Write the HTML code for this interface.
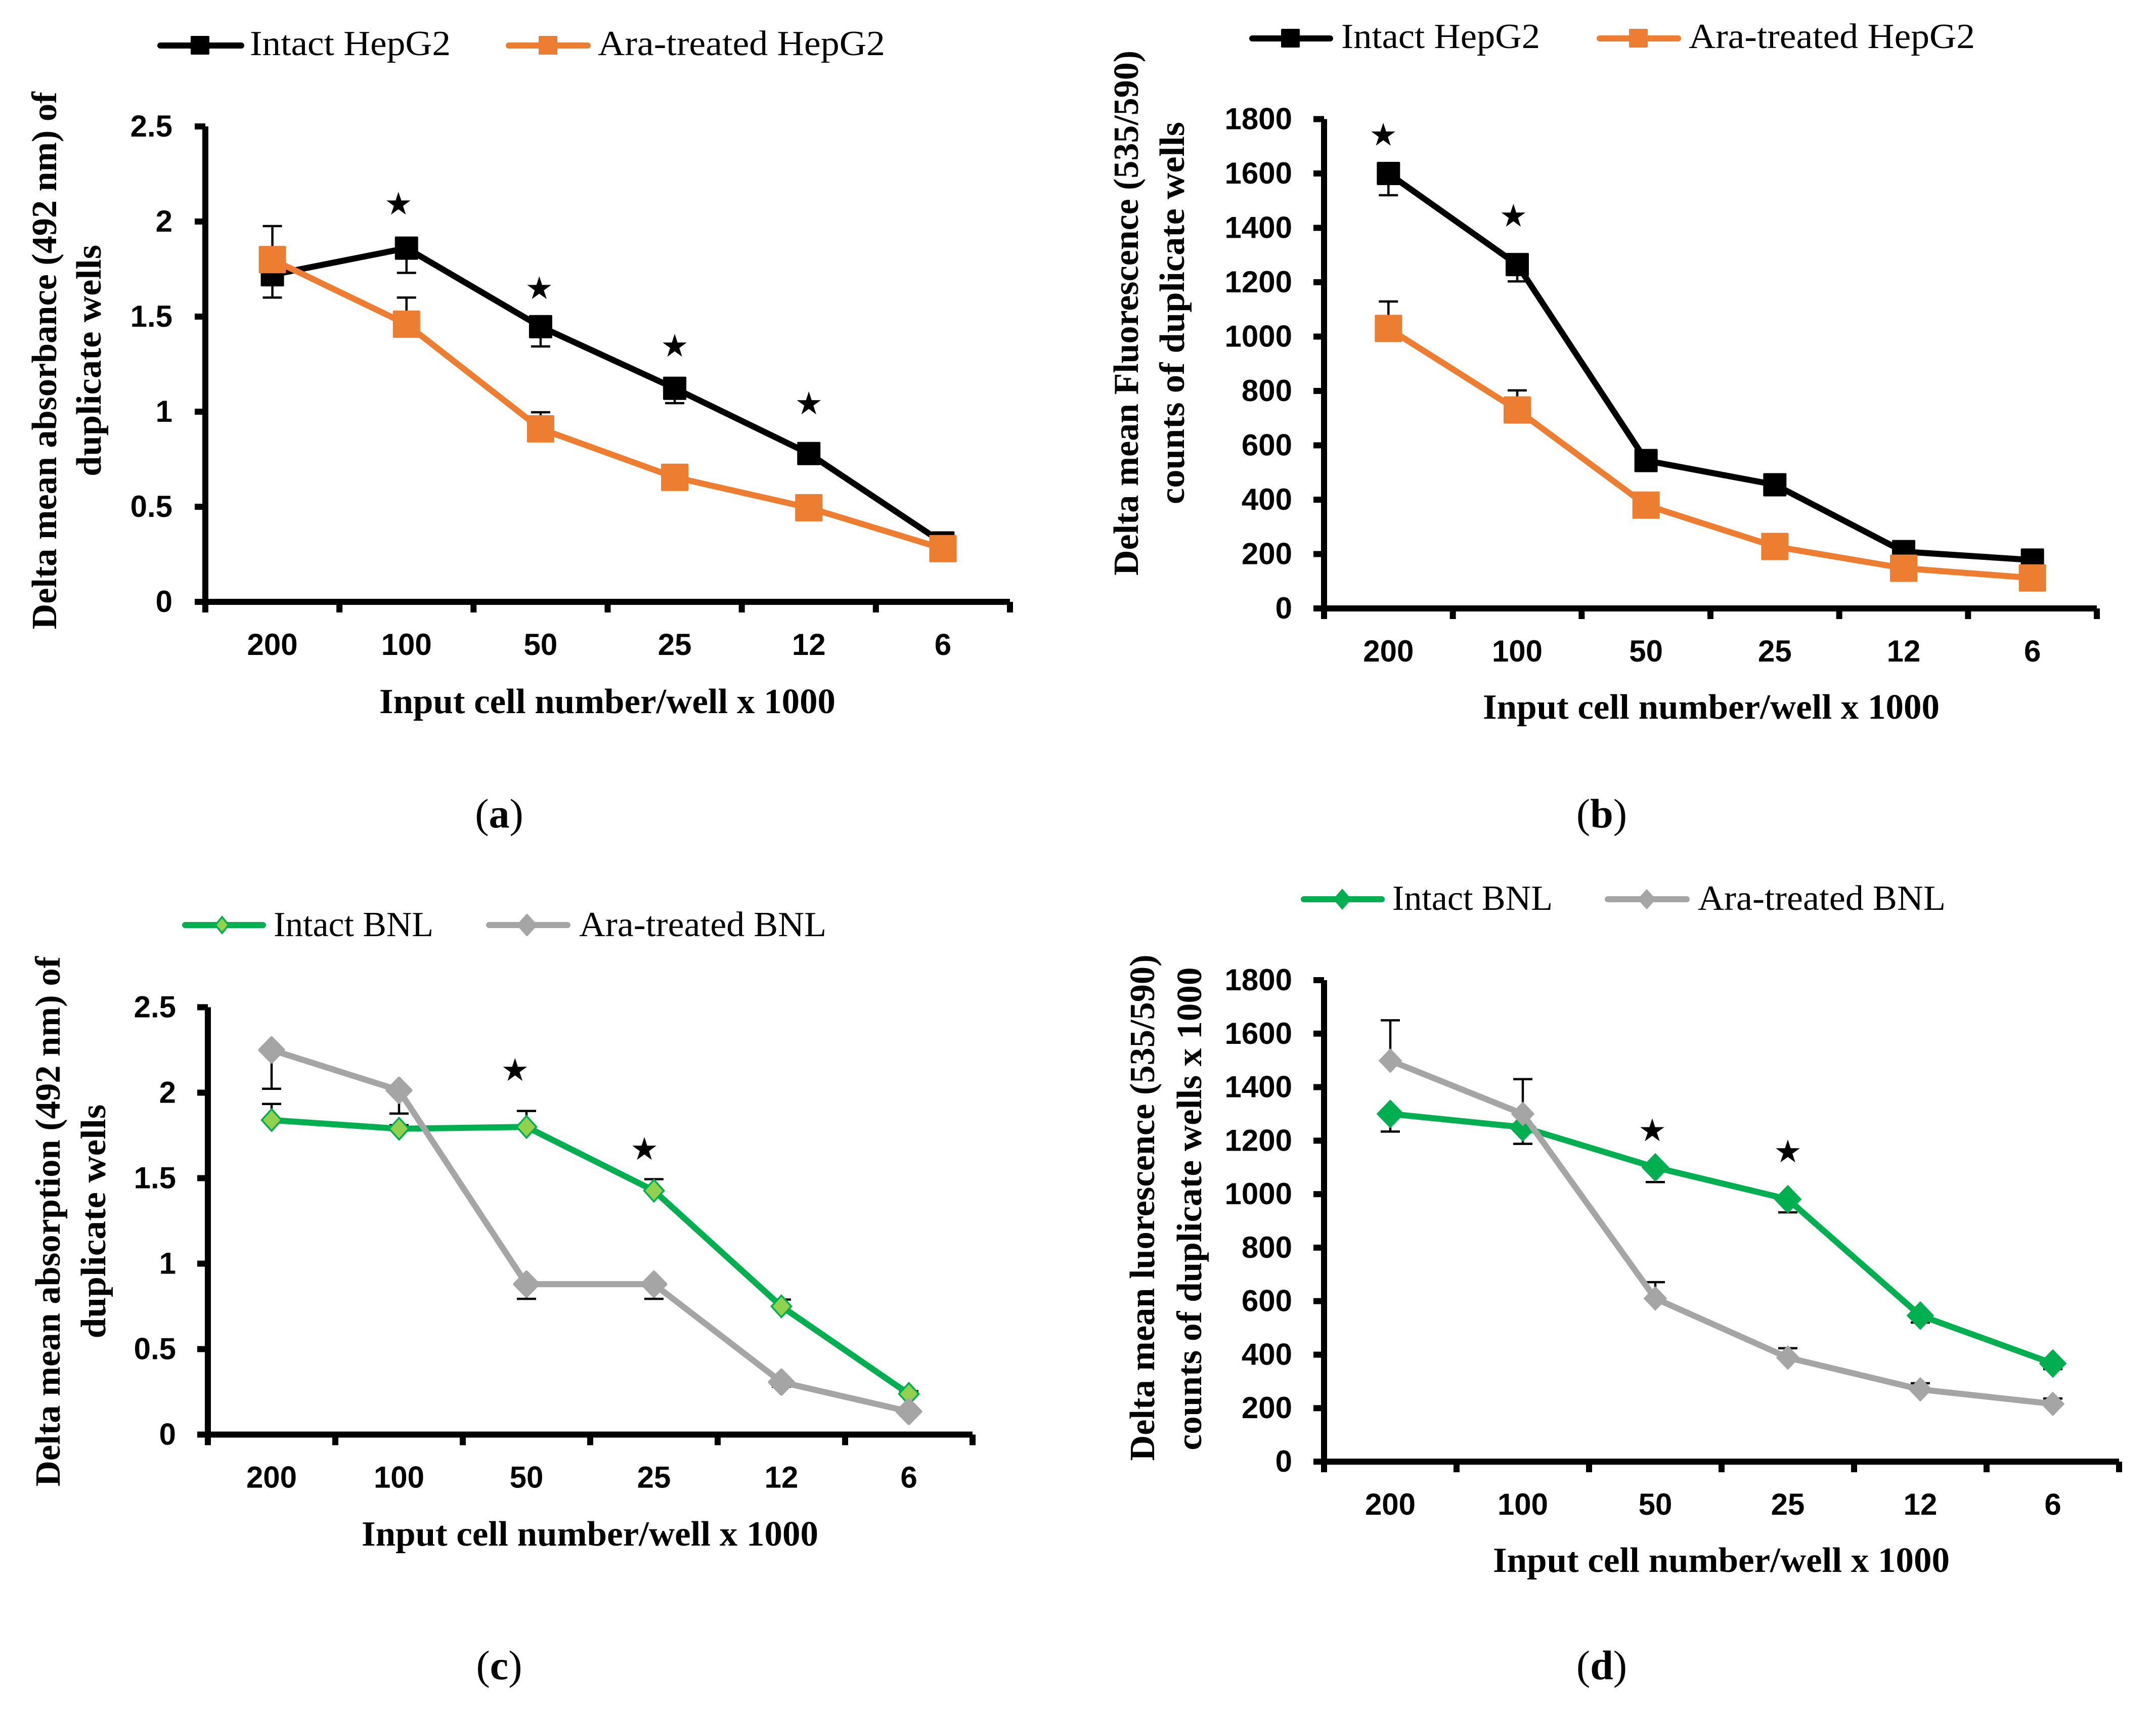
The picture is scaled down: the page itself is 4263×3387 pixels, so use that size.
<!DOCTYPE html>
<html lang="en">
<head>
<meta charset="utf-8">
<title>Delta absorbance and fluorescence versus input cell number</title>
<style>
html,body{margin:0;padding:0;background:#fff;}
svg{display:block;}
.tick{font-family:"Liberation Sans",sans-serif;font-weight:700;font-size:60px;fill:#000;}
.title{font-family:"Liberation Serif",serif;font-weight:700;font-size:70px;fill:#000;}
.leg{font-family:"Liberation Serif",serif;font-weight:400;font-size:70px;fill:#000;}
.cap{font-family:"Liberation Serif",serif;font-weight:400;font-size:82px;fill:#000;}
.cap tspan{font-weight:700;}
</style>
</head>
<body>
<svg id="fig" xmlns="http://www.w3.org/2000/svg" width="4263" height="3387" viewBox="0 0 4263 3387">
<rect x="0" y="0" width="4263" height="3387" fill="#ffffff"/>

<!-- Panel a text and legend -->
<g>
<line x1="317" y1="90" x2="477" y2="90" stroke="#000" stroke-width="12" stroke-linecap="round"/>
<rect x="377" y="71" width="37" height="37" rx="2" fill="#000"/>
<text class="leg" x="494" y="109" textLength="397" lengthAdjust="spacingAndGlyphs">Intact HepG2</text>
<line x1="1006" y1="90" x2="1162" y2="90" stroke="#ED7D31" stroke-width="12" stroke-linecap="round"/>
<rect x="1065" y="71" width="37" height="37" rx="2" fill="#ED7D31"/>
<text class="leg" x="1182" y="109" textLength="568" lengthAdjust="spacingAndGlyphs">Ara-treated HepG2</text>
</g>
<text class="title" transform="translate(111,713) rotate(-90)" text-anchor="middle" textLength="1063" lengthAdjust="spacingAndGlyphs">Delta mean absorbance (492 nm) of</text>
<text class="title" transform="translate(199,713) rotate(-90)" text-anchor="middle" textLength="458" lengthAdjust="spacingAndGlyphs">duplicate wells</text>
<text class="title" x="750" y="1410" textLength="902" lengthAdjust="spacingAndGlyphs">Input cell number/well x 1000</text>
<text class="cap" x="987" y="1636" text-anchor="middle">(<tspan>a</tspan>)</text>

<!-- Panel b text and legend -->
<g>
<line x1="2476" y1="76" x2="2630" y2="76" stroke="#000" stroke-width="12" stroke-linecap="round"/>
<rect x="2533" y="57" width="37" height="37" rx="2" fill="#000"/>
<text class="leg" x="2652" y="95" textLength="393" lengthAdjust="spacingAndGlyphs">Intact HepG2</text>
<line x1="3163" y1="76" x2="3318" y2="76" stroke="#ED7D31" stroke-width="12" stroke-linecap="round"/>
<rect x="3221" y="57" width="37" height="37" rx="2" fill="#ED7D31"/>
<text class="leg" x="3339" y="95" textLength="566" lengthAdjust="spacingAndGlyphs">Ara-treated HepG2</text>
</g>
<text class="title" transform="translate(2250,619) rotate(-90)" text-anchor="middle" textLength="1038" lengthAdjust="spacingAndGlyphs">Delta mean Fluorescence (535/590)</text>
<text class="title" transform="translate(2341,619) rotate(-90)" text-anchor="middle" textLength="756" lengthAdjust="spacingAndGlyphs">counts of duplicate wells</text>
<text class="title" x="2932" y="1421" textLength="903" lengthAdjust="spacingAndGlyphs">Input cell number/well x 1000</text>
<text class="cap" x="3167" y="1636" text-anchor="middle">(<tspan>b</tspan>)</text>

<!-- Panel c text and legend -->
<g>
<line x1="366" y1="1829" x2="520" y2="1829" stroke="#00B050" stroke-width="12" stroke-linecap="round"/>
<polygon points="439,1813 452,1829 439,1845 426,1829" fill="#92D050" stroke="#00B050" stroke-width="3.5"/>
<text class="leg" x="541" y="1851" textLength="316" lengthAdjust="spacingAndGlyphs">Intact BNL</text>
<line x1="967" y1="1829" x2="1122" y2="1829" stroke="#A5A5A5" stroke-width="12" stroke-linecap="round"/>
<polygon points="1042,1809 1060,1829 1042,1849 1024,1829" fill="#A5A5A5" stroke="#A5A5A5" stroke-width="4" stroke-linejoin="round"/>
<text class="leg" x="1145" y="1851" textLength="489" lengthAdjust="spacingAndGlyphs">Ara-treated BNL</text>
</g>
<text class="title" transform="translate(118,2415) rotate(-90)" text-anchor="middle" textLength="1048" lengthAdjust="spacingAndGlyphs">Delta mean absorption (492 nm) of</text>
<text class="title" transform="translate(208,2415) rotate(-90)" text-anchor="middle" textLength="463" lengthAdjust="spacingAndGlyphs">duplicate wells</text>
<text class="title" x="715" y="3056" textLength="903" lengthAdjust="spacingAndGlyphs">Input cell number/well x 1000</text>
<text class="cap" x="987" y="3320" text-anchor="middle">(<tspan>c</tspan>)</text>

<!-- Panel d text and legend -->
<g>
<line x1="2578" y1="1778" x2="2732" y2="1778" stroke="#00B050" stroke-width="12" stroke-linecap="round"/>
<polygon points="2654,1757 2672,1778 2654,1799 2636,1778" fill="#00B050"/>
<text class="leg" x="2753" y="1799" textLength="317" lengthAdjust="spacingAndGlyphs">Intact BNL</text>
<line x1="3179" y1="1778" x2="3335" y2="1778" stroke="#A5A5A5" stroke-width="12" stroke-linecap="round"/>
<polygon points="3256,1760 3272,1778 3256,1796 3240,1778" fill="#A5A5A5" stroke="#A5A5A5" stroke-width="3" stroke-linejoin="round"/>
<text class="leg" x="3357" y="1799" textLength="490" lengthAdjust="spacingAndGlyphs">Ara-treated BNL</text>
</g>
<text class="title" transform="translate(2282,2388) rotate(-90)" text-anchor="middle" textLength="1001" lengthAdjust="spacingAndGlyphs">Delta mean luorescence (535/590)</text>
<text class="title" transform="translate(2375,2390) rotate(-90)" text-anchor="middle" textLength="955" lengthAdjust="spacingAndGlyphs">counts of duplicate wells x 1000</text>
<text class="title" x="2952" y="3108" textLength="903" lengthAdjust="spacingAndGlyphs">Input cell number/well x 1000</text>
<text class="cap" x="3167" y="3320" text-anchor="middle">(<tspan>d</tspan>)</text>
</svg>

<script>
// Shared category labels and y tick values
const categories = ['200', '100', '50', '25', '12', '6'];
const absorbTicks = [0, 0.5, 1, 1.5, 2, 2.5];
const fluorTicks = [0, 200, 400, 600, 800, 1000, 1200, 1400, 1600, 1800];

// Panel a
const aIntact = [1.72, 1.86, 1.447, 1.123, 0.78, 0.31];
const aTreated = [1.80, 1.46, 0.91, 0.655, 0.495, 0.28];
const aIntactErr = [1.60, 1.73, 1.343, 1.045, 0.75, 0.30];
const aTreatedErr = [1.976, 1.60, 0.997, 0.70, 0.52, 0.31];
const aStarCats = [0.94, 1.99, 3.0, 4.0];
const aStarVals = [2.09, 1.646, 1.343, 1.04];

// Panel b
const bIntact = [1600, 1265, 544, 455, 209, 178];
const bTreated = [1030, 730, 380, 228, 148, 112];
const bIntactErr = [1520, 1203, 520, 430, 200, 165];
const bTreatedErr = [1129, 802, 395, 245, 160, 120];
const bStarCats = [-0.04, 0.97];
const bStarVals = [1740, 1442];

// Panel c
const cIntact = [1.84, 1.789, 1.80, 1.427, 0.75, 0.238];
const cTreated = [2.25, 2.014, 0.88, 0.88, 0.307, 0.135];
const cIntactErr = [1.934, 1.81, 1.893, 1.494, 0.79, 0.254];
const cTreatedErr = [2.023, 1.878, 0.794, 0.794, 0.28, 0.12];
const cStarCats = [1.91, 2.925];
const cStarVals = [2.129, 1.667];

// Panel d
const dIntact = [1300, 1250, 1100, 981, 546, 367];
const dTreated = [1499, 1300, 610, 389, 270, 216];
const dIntactErr = [1234, 1188, 1045, 932, 520, 346];
const dTreatedErr = [1650, 1430, 671, 424, 293, 236];
const dStarCats = [1.977, 3.0];
const dStarVals = [1236, 1157];

const NS = 'http://www.w3.org/2000/svg';
const fig = document.getElementById('fig');

function svgEl(tag, attrs, parent) {
  const el = document.createElementNS(NS, tag);
  for (const k in attrs) el.setAttribute(k, attrs[k]);
  parent.appendChild(el);
  return el;
}

function diamondPoints(cx, cy, w, h) {
  return [[cx, cy - h / 2], [cx + w / 2, cy], [cx, cy + h / 2], [cx - w / 2, cy]].map(p => p.join(',')).join(' ');
}

function starPoints(cx, cy, R) {
  const pts = [];
  for (let k = 0; k < 10; k++) {
    const r = k % 2 === 0 ? R : R * 0.382;
    const a = -Math.PI / 2 + k * Math.PI / 5;
    pts.push((cx + r * Math.cos(a)).toFixed(1) + ',' + (cy + r * Math.sin(a)).toFixed(1));
  }
  return pts.join(' ');
}

function drawMarker(g, style, cx, cy, name) {
  let m;
  if (style.shape === 'square') {
    m = svgEl('rect', {x: cx - style.w / 2, y: cy - style.h / 2, width: style.w, height: style.h, rx: 2, fill: style.fill}, g);
  } else {
    m = svgEl('polygon', {points: diamondPoints(cx, cy, style.w, style.h), fill: style.fill, stroke: style.stroke, 'stroke-width': style.sw, 'stroke-linejoin': style.join || 'miter'}, g);
  }
  
  
}

function drawPanel(p) {
  const step = (p.xR - p.x0) / categories.length;
  const xScale = i => p.x0 + (i + 0.5) * step;
  const yScale = v => p.y0 - (v / p.yMax) * (p.y0 - p.yT);

  const g = svgEl('g', {}, fig);
  
  

  // axes
  const yAxis = svgEl('line', {x1: p.x0, y1: p.yT, x2: p.x0, y2: p.y0 + 21, stroke: '#000', 'stroke-width': 12}, g);
  
  
  const xAxis = svgEl('line', {x1: p.x0 - 21, y1: p.y0, x2: p.xR, y2: p.y0, stroke: '#000', 'stroke-width': 12}, g);
  
  

  // y ticks and labels
  p.yTicks.forEach(v => {
    const y = yScale(v);
    const t = svgEl('line', {x1: p.x0 - 21, y1: y, x2: p.x0, y2: y, stroke: '#000', 'stroke-width': 12}, g);
    
    
    const l = svgEl('text', {x: p.labelRight, y: y + 20, 'text-anchor': 'end', class: 'tick'}, g);
    
    
    l.textContent = String(v);
  });

  // x ticks and labels
  for (let i = 0; i <= categories.length; i++) {
    const x = p.x0 + i * step;
    const t = svgEl('line', {x1: x, y1: p.y0, x2: x, y2: p.y0 + 21, stroke: '#000', 'stroke-width': 12}, g);
    
    
  }
  categories.forEach((c, i) => {
    const l = svgEl('text', {x: xScale(i), y: p.y0 + 105, 'text-anchor': 'middle', class: 'tick'}, g);
    
    
    l.textContent = c;
  });

  // error bars sit behind lines and markers
  p.series.forEach(s => {
    s.err.forEach((e, i) => {
      const x = xScale(i);
      const stem = svgEl('line', {x1: x, y1: yScale(s.values[i]), x2: x, y2: yScale(e), stroke: '#000', 'stroke-width': 4.5}, g);
      
      
      const cap = svgEl('line', {x1: x - 19, y1: yScale(e), x2: x + 19, y2: yScale(e), stroke: '#000', 'stroke-width': 4.5}, g);
      
      
    });
  });

  // series
  p.series.forEach(s => {
    const pts = s.values.map((v, i) => xScale(i).toFixed(1) + ',' + yScale(v).toFixed(1)).join(' ');
    const line = svgEl('polyline', {points: pts, fill: 'none', stroke: s.color, 'stroke-width': 12, 'stroke-linejoin': 'round'}, g);
    
    
    s.values.forEach((v, i) => {
      drawMarker(g, s.marker, xScale(i), yScale(v), 'point-' + s.name);
    });
  });

  // significance stars
  p.starCats.forEach((c, i) => {
    const star = svgEl('polygon', {points: starPoints(xScale(c), yScale(p.starVals[i]), 25), fill: '#000'}, g);
    
    
  });
}

const squareBlack = {shape: 'square', w: 46, h: 46, fill: '#000'};
const squareOrange = {shape: 'square', w: 54, h: 54, fill: '#ED7D31'};

drawPanel({
  id: 'a', x0: 406, xR: 1997, y0: 1190, yT: 250, yMax: 2.5, labelRight: 341, yTicks: absorbTicks,
  starCats: aStarCats, starVals: aStarVals,
  series: [
    {name: 'intact-hepg2', values: aIntact, err: aIntactErr, color: '#000', marker: squareBlack},
    {name: 'ara-hepg2', values: aTreated, err: aTreatedErr, color: '#ED7D31', marker: squareOrange}
  ]
});

drawPanel({
  id: 'b', x0: 2618, xR: 4146, y0: 1203, yT: 235.5, yMax: 1800, labelRight: 2555, yTicks: fluorTicks,
  starCats: bStarCats, starVals: bStarVals,
  series: [
    {name: 'intact-hepg2', values: bIntact, err: bIntactErr, color: '#000', marker: squareBlack},
    {name: 'ara-hepg2', values: bTreated, err: bTreatedErr, color: '#ED7D31', marker: squareOrange}
  ]
});

drawPanel({
  id: 'c', x0: 411, xR: 1923, y0: 2836.5, yT: 1991.5, yMax: 2.5, labelRight: 348, yTicks: absorbTicks,
  starCats: cStarCats, starVals: cStarVals,
  series: [
    {name: 'intact-bnl', values: cIntact, err: cIntactErr, color: '#00B050',
     marker: {shape: 'diamond', w: 39, h: 43, fill: '#92D050', stroke: '#00B050', sw: 3.5}},
    {name: 'ara-bnl', values: cTreated, err: cTreatedErr, color: '#A5A5A5',
     marker: {shape: 'diamond', w: 47, h: 48, fill: '#A5A5A5', stroke: '#A5A5A5', sw: 6, join: 'round'}}
  ]
});

drawPanel({
  id: 'd', x0: 2618, xR: 4190, y0: 2890, yT: 1938, yMax: 1800, labelRight: 2555, yTicks: fluorTicks,
  starCats: dStarCats, starVals: dStarVals,
  series: [
    {name: 'intact-bnl', values: dIntact, err: dIntactErr, color: '#00B050',
     marker: {shape: 'diamond', w: 52, h: 54, fill: '#00B050', stroke: '#00B050', sw: 2, join: 'round'}},
    {name: 'ara-bnl', values: dTreated, err: dTreatedErr, color: '#A5A5A5',
     marker: {shape: 'diamond', w: 44, h: 46, fill: '#A5A5A5', stroke: '#A5A5A5', sw: 2, join: 'round'}}
  ]
});
</script>
</body>
</html>
